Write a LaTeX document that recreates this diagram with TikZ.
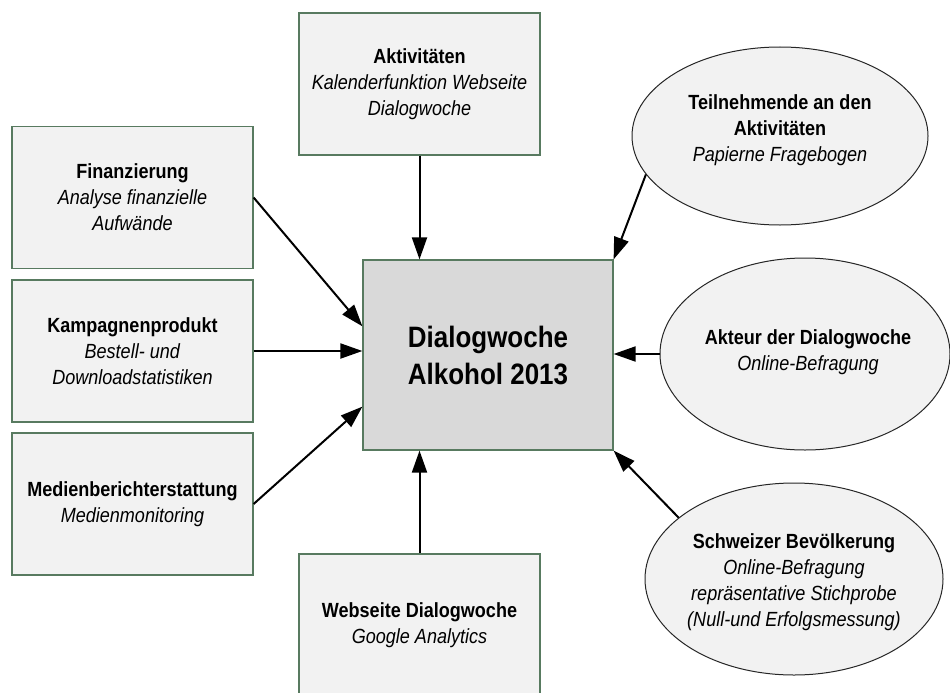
\documentclass[tikz,border=0pt]{standalone}
\usepackage{fontspec}
\setmainfont{Liberation Sans}[FakeStretch=0.88]
\usetikzlibrary{shapes.geometric,arrows.meta,calc}
\definecolor{boxfill}{HTML}{F2F2F2}
\definecolor{boxline}{HTML}{587A60}
\definecolor{mainfill}{HTML}{D9D9D9}
\begin{document}
\begin{tikzpicture}[x=1pt, y=-1pt,
    source/.style={rectangle, draw=boxline, line width=1.2pt, fill=boxfill, minimum width=241pt, minimum height=142pt, align=center, font=\fontsize{20.5}{26}\selectfont},
    main/.style={rectangle, draw=boxline, line width=1.2pt, fill=mainfill, minimum width=250pt, minimum height=190pt, align=center, font=\fontsize{29.5}{37}\selectfont\bfseries},
    bubble/.style={ellipse, draw=black!85, line width=1pt, fill=boxfill, inner sep=0pt},
    bubbletext/.style={align=center, font=\fontsize{20.5}{26}\selectfont},
    arrow/.style={-{Triangle[length=22pt, width=15pt]}, line width=2pt}
]
    \useasboundingbox (0,0) rectangle (950,693);

    \node[main] (dw) at (488,355) {Dialogwoche\\Alkohol 2013};

    \node[source] (akt) at (419.5,84) {\textbf{Aktivitäten}\\\textit{Kalenderfunktion Webseite}\\\textit{Dialogwoche}};
    \node[source] (fin) at (132.5,197.5) {\textbf{Finanzierung}\\\textit{Analyse finanzielle}\\\textit{Aufwände}};
    \node[source] (kamp) at (132.5,351) {\textbf{Kampagnenprodukt}\\\textit{Bestell- und}\\\textit{Downloadstatistiken}};
    \node[source] (med) at (132.5,504) {\textbf{Medienberichterstattung}\\\textit{Medienmonitoring}};
    \node[source] (web) at (419.5,625) {\textbf{Webseite Dialogwoche}\\\textit{Google Analytics}};

    \node[bubble, minimum width=296pt, minimum height=178pt] (teil) at (780,136) {};
    \node[bubbletext] (teiltext) at (780,130) {\textbf{Teilnehmende an den}\\\textbf{Aktivitäten}\\\textit{Papierne Fragebogen}};
    \node[bubble, minimum width=290pt, minimum height=192pt] (akteur) at (805,354) {};
    \node[bubbletext] (akteurtext) at (808,352) {\textbf{Akteur der Dialogwoche}\\\textit{Online-Befragung}};
    \node[bubble, minimum width=298pt, minimum height=192pt] (ch) at (794,579) {};
    \node[bubbletext] (chtext) at (794,582) {\textbf{Schweizer Bevölkerung}\\\textit{Online-Befragung}\\\textit{repräsentative Stichprobe}\\\textit{(Null-und Erfolgsmessung)}};

    \draw[arrow] (akt.south) -- (akt.south |- dw.north);
    \draw[arrow] (fin.east) -- ($(dw.north west)!0.35!(dw.south west)$);
    \draw[arrow] (kamp.east) -- (kamp.east -| dw.west);
    \draw[arrow] (med.east) -- ($(dw.north west)!0.77!(dw.south west)$);
    \draw[arrow] (web.north) -- (web.north |- dw.south);
    \draw[arrow] (teil.196) -- (dw.north east);
    \draw[arrow] (akteur.west) -- (akteur.west -| dw.east);
    \draw[arrow] (ch.152) -- (dw.south east);
\end{tikzpicture}
\end{document}
